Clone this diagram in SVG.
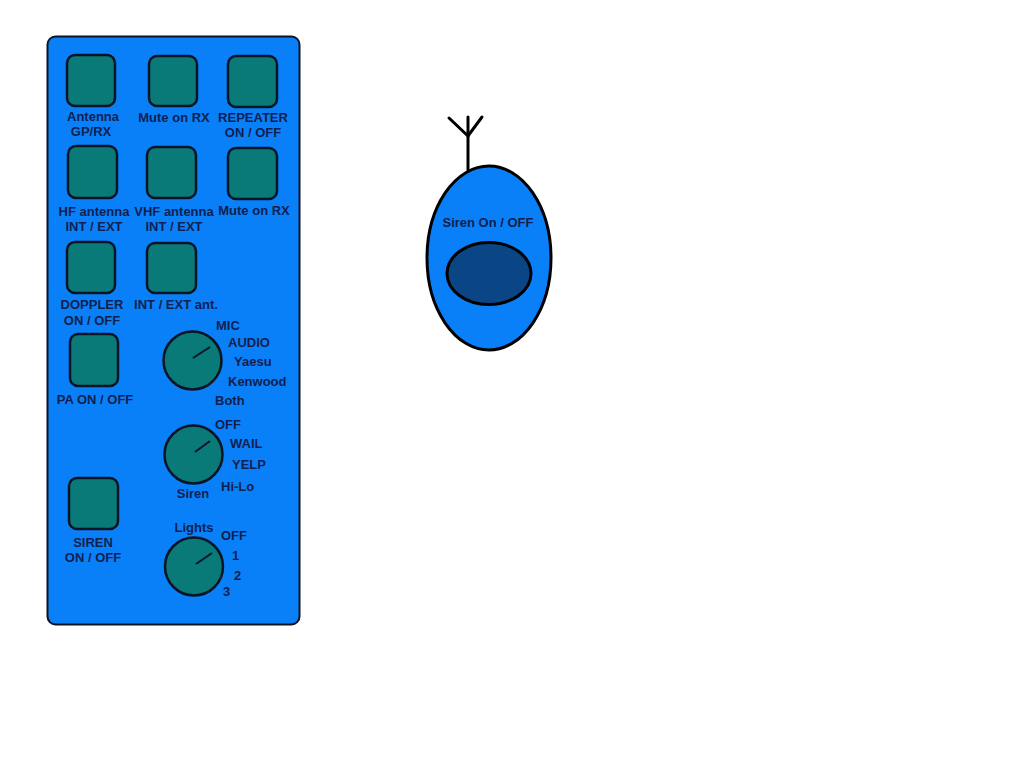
<svg xmlns="http://www.w3.org/2000/svg" width="1024" height="768" viewBox="0 0 1024 768">
<style>
.btn{fill:#0a7a78;stroke:#0a1424;stroke-width:2.5}
.knob{fill:#0a7a78;stroke:#0a1424;stroke-width:2.5}
.ind{stroke:#0a1424;stroke-width:2}
text{font-family:"Liberation Sans",Arial,sans-serif;font-weight:bold;font-size:13px;fill:#10204f}
.c{text-anchor:middle}
</style>
<rect width="1024" height="768" fill="#ffffff"/>
<g id="panel">
<rect x="47.5" y="36.5" width="252" height="588" rx="8" fill="#0a80f8" stroke="#0a1424" stroke-width="2"/>
</g>
<g id="btn-antenna"><rect class="btn" x="67" y="55" width="48" height="51" rx="8"/><text class="c" x="93" y="121">Antenna</text><text class="c" x="91" y="136">GP/RX</text></g>
<g id="btn-mute1"><rect class="btn" x="149" y="56" width="48" height="50" rx="8"/><text class="c" x="174" y="122">Mute on RX</text></g>
<g id="btn-repeater"><rect class="btn" x="228" y="56" width="49" height="51" rx="8"/><text class="c" x="253" y="122">REPEATER</text><text class="c" x="253" y="137">ON / OFF</text></g>
<g id="btn-hf"><rect class="btn" x="68" y="146" width="49" height="52" rx="8"/><text class="c" x="94" y="216">HF antenna</text><text class="c" x="94" y="231">INT / EXT</text></g>
<g id="btn-vhf"><rect class="btn" x="147" y="147" width="49" height="51" rx="8"/><text class="c" x="174" y="216">VHF antenna</text><text class="c" x="174" y="231">INT / EXT</text></g>
<g id="btn-mute2"><rect class="btn" x="228" y="148" width="49" height="51" rx="8"/><text class="c" x="254" y="215">Mute on RX</text></g>
<g id="btn-doppler"><rect class="btn" x="67" y="242" width="48" height="51" rx="8"/><text class="c" x="92" y="309">DOPPLER</text><text class="c" x="92" y="325">ON / OFF</text></g>
<g id="btn-intext"><rect class="btn" x="147" y="243" width="49" height="50" rx="8"/><text class="c" x="176" y="309">INT / EXT ant.</text></g>
<g id="btn-pa"><rect class="btn" x="70" y="334" width="48" height="52" rx="8"/><text class="c" x="95" y="404">PA ON / OFF</text></g>
<g id="btn-siren"><rect class="btn" x="69" y="478" width="49" height="51" rx="8"/><text class="c" x="93" y="547">SIREN</text><text class="c" x="93" y="562">ON / OFF</text></g>
<g id="knob-audio">
<circle class="knob" cx="192.5" cy="360.5" r="29"/>
<line class="ind" x1="193" y1="358" x2="210" y2="347"/>
<text x="216" y="330">MIC</text><text x="228" y="347">AUDIO</text><text x="234" y="366">Yaesu</text><text x="228" y="386">Kenwood</text><text x="215" y="405">Both</text>
</g>
<g id="knob-siren">
<circle class="knob" cx="193.5" cy="454.5" r="29"/>
<line class="ind" x1="195" y1="452" x2="210" y2="441"/>
<text x="215" y="429">OFF</text><text x="230" y="448">WAIL</text><text x="232" y="469">YELP</text><text x="221" y="491">Hi-Lo</text><text class="c" x="193" y="498">Siren</text>
</g>
<g id="knob-lights">
<circle class="knob" cx="194" cy="566.5" r="29"/>
<line class="ind" x1="196" y1="564" x2="212" y2="553"/>
<text class="c" x="194" y="532">Lights</text><text x="221" y="540">OFF</text><text x="232" y="560">1</text><text x="234" y="580">2</text><text x="223" y="596">3</text>
</g>
<g id="remote">
<g stroke="#000" stroke-width="3" fill="none" stroke-linecap="round">
<line x1="468" y1="117" x2="468" y2="170"/>
<polyline points="449,118 468,136 482,117"/>
</g>
<ellipse cx="489" cy="258" rx="62" ry="92" fill="#0a80f8" stroke="#000" stroke-width="3"/>
<ellipse cx="489" cy="273.5" rx="42" ry="31" fill="#0a4585" stroke="#000" stroke-width="3"/>
<text class="c" x="488" y="227">Siren On / OFF</text>
</g>
</svg>
